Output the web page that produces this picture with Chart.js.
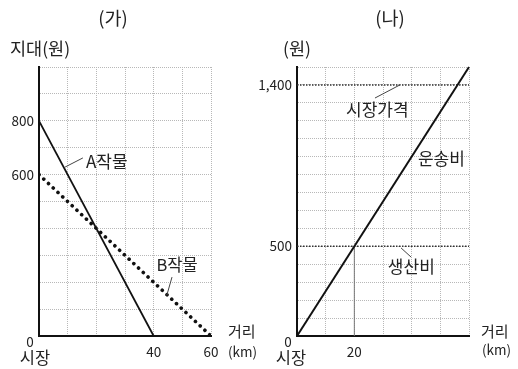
<!DOCTYPE html>
<html>
<head>
<meta charset="utf-8">
<script src="https://cdn.jsdelivr.net/npm/chart.js@4.4.1/dist/chart.umd.min.js"></script>
<style>
  body { margin: 0; background: #fff; }
  #wrap { position: relative; width: 518px; height: 369px; }
  canvas { position: absolute; left: 0; top: 0; }
</style>
</head>
<body>
<div id="wrap">
  <canvas id="chart-ga" width="518" height="369"></canvas>
  <canvas id="chart-na" width="518" height="369"></canvas>
</div>
<script>
// (가) 지대 곡선
const cropA_km = [0, 40];
const cropA_won = [800, 0];
const cropB_km = [0, 60];
const cropB_won = [600, 0];
const ga_y_ticks = [600, 800];
const ga_x_ticks = [40, 60];

// (나) 시장가격, 생산비, 운송비
const freight_km = [0, 60];
const freight_won = [0, 1500];
const market_price = 1400;
const production_cost = 500;
const breakeven_km = 20;
const na_y_ticks = [500, 1400];
const na_x_ticks = [20];

const FONT = '"Noto Sans CJK KR", "Noto Sans", sans-serif';
const INK = '#222';

function to_points(xs, ys) {
  return xs.map((x, i) => ({ x: x, y: ys[i] }));
}

const notes_plugin = {
  id: 'notes',
  afterDraw(chart, args, opts) {
    const ctx = chart.ctx;
    const area = chart.chartArea;
    const sx = chart.scales.x;
    const sy = chart.scales.y;
    const pos = (p) => p.data
      ? [sx.getPixelForValue(p.data[0]), sy.getPixelForValue(p.data[1])]
      : [area.left + p.dx, area.top + p.dy];
    ctx.save();
    ctx.strokeStyle = '#444';
    ctx.lineWidth = 1;
    (opts.leaders || []).forEach(l => {
      const a = pos({ data: l[0] });
      const b = pos({ data: l[1] });
      ctx.beginPath();
      ctx.moveTo(a[0], a[1]);
      ctx.lineTo(b[0], b[1]);
      ctx.stroke();
    });
    ctx.fillStyle = INK;
    ctx.textBaseline = 'middle';
    (opts.texts || []).forEach(t => {
      const p = pos(t);
      ctx.font = (t.size || 15) + 'px ' + FONT;
      ctx.textAlign = t.align || 'left';
      ctx.fillText(t.text, p[0], p[1]);
    });
    ctx.restore();
  }
};

function make_chart(canvas_id, datasets, cfg) {
  const element = document.getElementById(canvas_id).getContext('2d');
  return new Chart(element, {
    type: 'line',
    data: { datasets: datasets },
    plugins: [notes_plugin],
    options: {
      responsive: false,
      animation: false,
      devicePixelRatio: 1,
      layout: { padding: { left: cfg.pad_left, right: cfg.pad_right, top: 67, bottom: 0 } },
      elements: { point: { radius: 0 } },
      plugins: {
        legend: { display: false },
        tooltip: { enabled: false },
        notes: { texts: cfg.texts, leaders: cfg.leaders }
      },
      scales: {
        x: {
          type: 'linear', min: 0, max: 60,
          afterFit(scale) { scale.height = 33; },
          grid: { color: '#b8b8b8', lineWidth: 1, drawTicks: false },
          border: { color: '#111', width: 2, dash: [1, 1] },
          ticks: {
            stepSize: 10, autoSkip: false, maxRotation: 0, padding: 8,
            color: INK, font: { family: FONT, size: 13.5 },
            callback: v => cfg.x_ticks.includes(v) ? String(v) : ''
          }
        },
        y: {
          min: 0, max: cfg.y_max,
          afterFit(scale) { scale.width = cfg.y_width; },
          grid: { color: '#b8b8b8', lineWidth: 1, drawTicks: false },
          border: { color: '#111', width: 2, dash: [1, 1] },
          ticks: {
            stepSize: 100, autoSkip: false, padding: 5,
            color: INK, font: { family: FONT, size: 13.5 },
            callback: v => cfg.y_ticks.includes(v) ? v.toLocaleString('en-US') : ''
          }
        }
      }
    }
  });
}

make_chart('chart-ga', [
  { data: to_points(cropA_km, cropA_won), borderColor: '#111', borderWidth: 1.8 },
  { data: to_points(cropB_km, cropB_won), borderColor: '#111', borderWidth: 3.6,
    borderDash: [0.1, 6.4], borderCapStyle: 'round' }
], {
  pad_left: 0, pad_right: 307, y_width: 39, y_max: 1000,
  x_ticks: ga_x_ticks, y_ticks: ga_y_ticks,
  texts: [
    { text: '(가)', dx: 74, dy: -49, align: 'center', size: 18.5 },
    { text: '지대(원)', dx: -29, dy: -19, size: 17.5 },
    { text: '0', dx: -9, dy: 275, align: 'center', size: 13.5 },
    { text: '시장', dx: -4, dy: 291, align: 'center', size: 16.5 },
    { text: '거리', dx: 189, dy: 264, size: 15 },
    { text: '(km)', dx: 189, dy: 285, size: 13.5 },
    { text: 'A작물', data: [16.4, 650], size: 17 },
    { text: 'B작물', data: [41.0, 264], size: 16.5 }
  ],
  leaders: [
    [[9.1, 628], [15.3, 662]],
    [[46.4, 219], [44.6, 152]]
  ]
});

make_chart('chart-na', [
  { data: to_points(freight_km, freight_won), borderColor: '#111', borderWidth: 2, clip: false },
  { data: to_points([0, 60], [market_price, market_price]), borderColor: '#333', borderWidth: 1.5,
    borderDash: [1.5, 1.5] },
  { data: to_points([0, 60], [production_cost, production_cost]), borderColor: '#333', borderWidth: 1.5,
    borderDash: [1.5, 1.5] },
  { data: to_points([breakeven_km, breakeven_km], [0, production_cost]), borderColor: '#777', borderWidth: 1 }
], {
  pad_left: 257, pad_right: 49, y_width: 40, y_max: 1500,
  x_ticks: na_x_ticks, y_ticks: na_y_ticks,
  texts: [
    { text: '(나)', dx: 93, dy: -49, align: 'center', size: 18.5 },
    { text: '(원)', dx: -14, dy: -19, size: 17.5 },
    { text: '0', dx: -9, dy: 275, align: 'center', size: 13.5 },
    { text: '시장', dx: -6, dy: 291, align: 'center', size: 16.5 },
    { text: '거리', dx: 184, dy: 264, size: 15 },
    { text: '(km)', dx: 185, dy: 283, size: 13.5 },
    { text: '시장가격', data: [17.1, 1260], size: 17 },
    { text: '운송비', data: [42.2, 987], size: 17 },
    { text: '생산비', data: [31.7, 385], size: 17 }
  ],
  leaders: [
    [[27.2, 1327], [35.9, 1400]],
    [[36.3, 491], [39.8, 440]]
  ]
});
</script>
</body>
</html>
